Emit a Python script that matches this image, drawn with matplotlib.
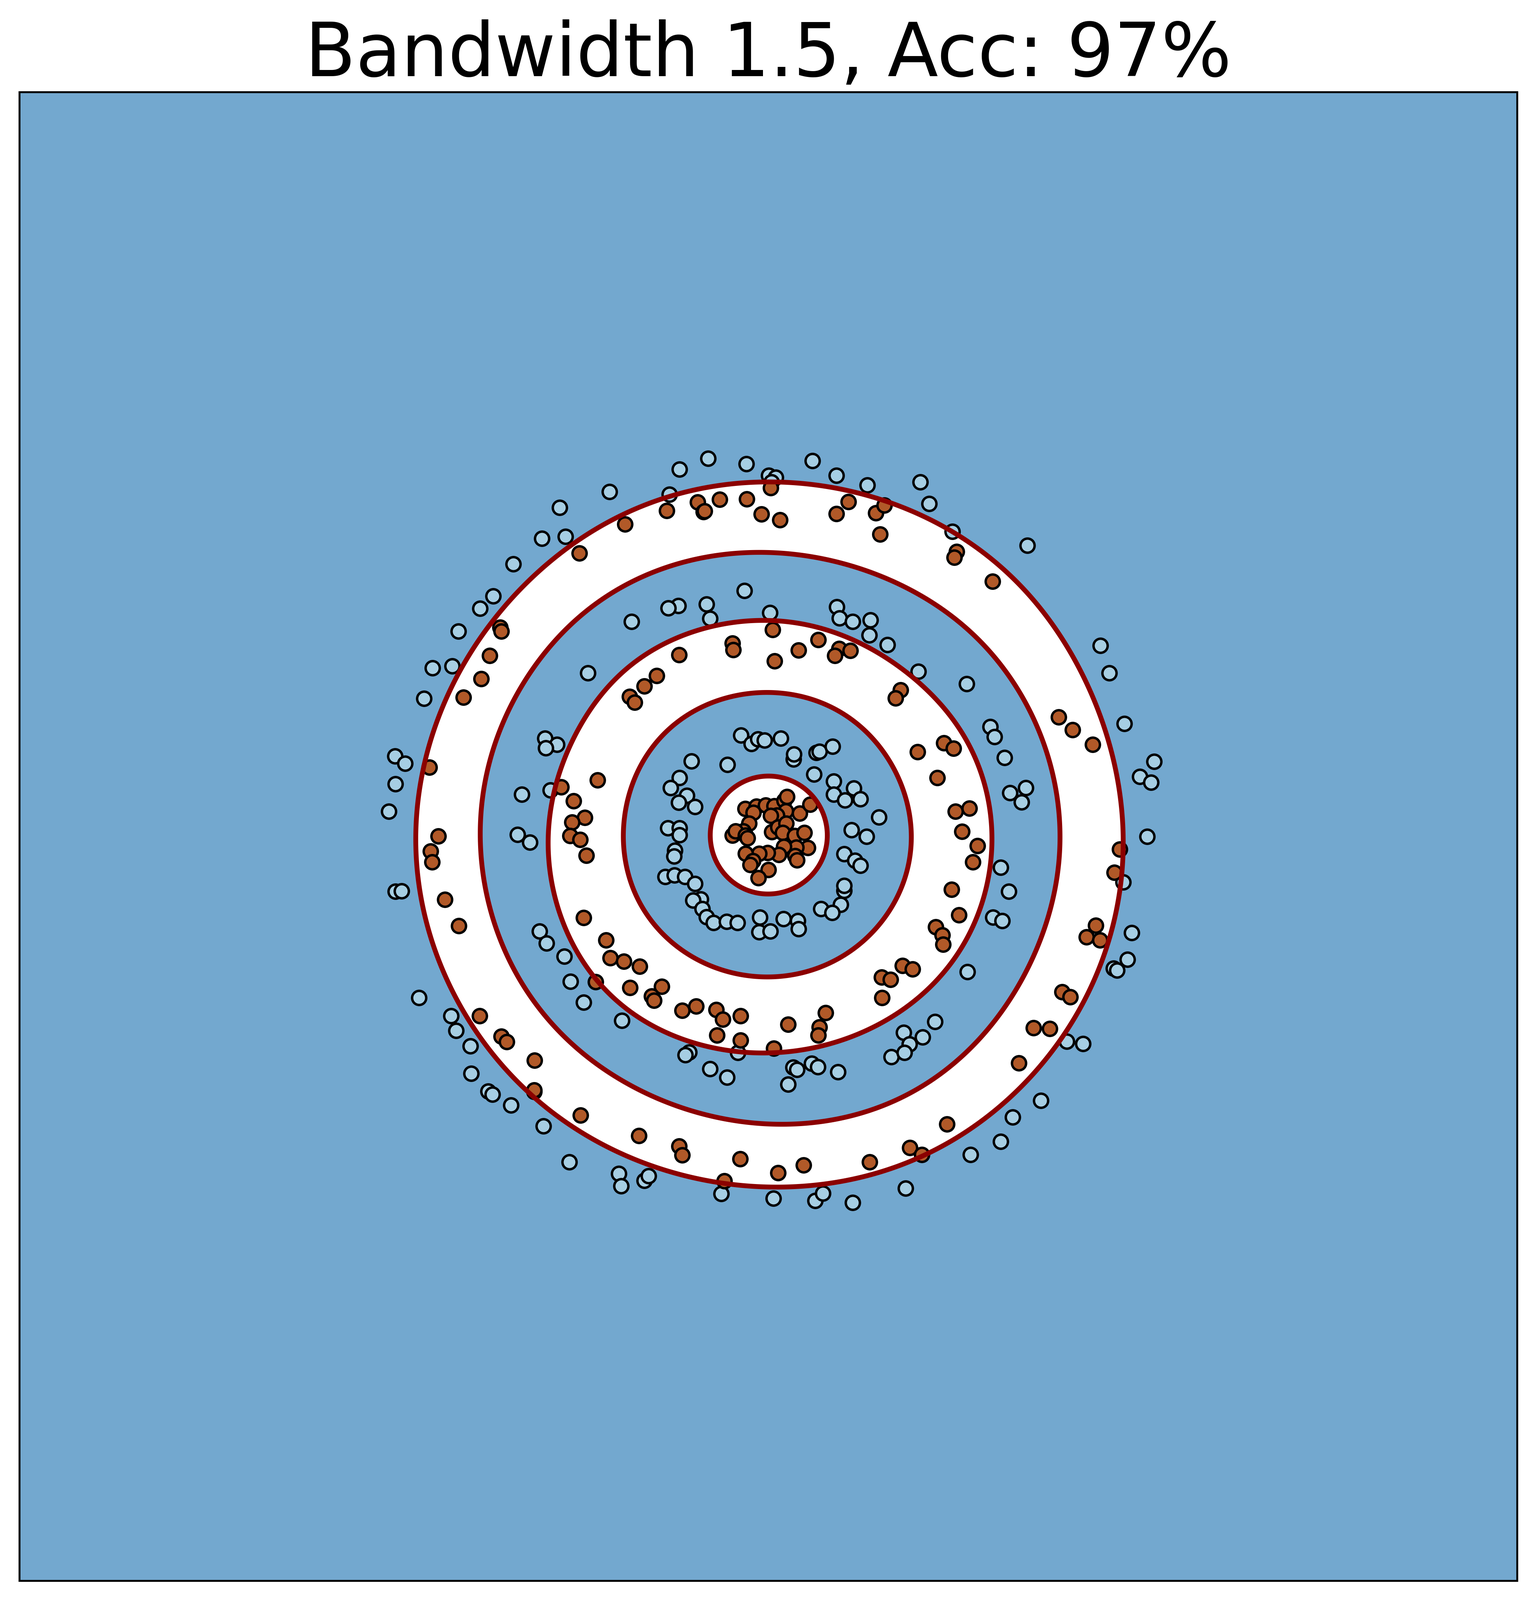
import matplotlib.pyplot as plt
import numpy as np

# light blue class (label 0), (x, y)
blue_pts = [
    (-4.11, 8.92), (-5.40, 8.51), (-5.86, 7.71), (-5.25, 7.76), (-6.60, 7.05), (-7.12, 6.22),
    (-7.46, 5.90), (-8.02, 5.31), (-8.69, 4.36), (-8.18, 4.41), (-8.91, 3.57), (-3.54, 5.56),
    (-4.67, 4.23),
    (-2.30, 9.50), (-1.56, 9.78), (-0.57, 9.63), (1.14, 9.71), (0.01, 9.34), (0.19, 9.29),
    (0.08, 9.17), (1.76, 9.34), (2.56, 9.09), (-2.56, 8.85), (-0.62, 6.36), (-2.33, 5.97),
    (-2.59, 5.91), (-1.60, 6.01), (-1.51, 5.64), (0.04, 5.79), (1.77, 5.94), (1.84, 5.65),
    (2.18, 5.56), (2.64, 5.60), (2.61, 5.21), (3.08, 4.96),
    (3.93, 9.17), (4.16, 8.61), (4.76, 7.89), (6.70, 7.53), (8.59, 4.94), (8.82, 4.23),
    (3.88, 4.27), (5.13, 3.95),
    (-9.66, 2.08), (-9.40, 1.89), (-9.65, 1.36), (-9.82, 0.65), (-9.65, -1.42), (-9.49, -1.41),
    (-5.78, 2.54), (-5.47, 2.38), (-5.76, 2.29), (-6.38, 1.09), (-5.64, 1.20), (-6.49, 0.05),
    (-6.17, -0.15), (-5.92, -2.45), (-5.74, -2.76), (-5.28, -3.10),
    # inner ring
    (-0.71, 2.62), (-0.44, 2.40), (-0.27, 2.52), (-0.10, 2.49), (0.32, 2.54), (0.65, 2.00),
    (0.66, 2.13), (1.24, 2.17), (1.32, 2.20), (1.66, 2.33), (-1.99, 1.95), (-1.06, 1.86),
    (-2.30, 1.52), (-2.53, 1.26), (-2.11, 1.06), (-2.32, 0.88), (-1.90, 0.77), (1.18, 1.61),
    (1.69, 1.43), (1.69, 1.09), (1.98, 0.94), (2.21, 1.25), (2.38, 0.97), (2.86, 0.50),
    (2.15, 0.17), (2.54, 0.00), (-2.60, 0.22), (-2.30, 0.22), (-2.30, 0.04), (-2.42, -0.36),
    (-2.44, -0.51), (-2.67, -1.04), (-2.43, -1.00), (-2.16, -1.04), (-1.90, -1.22), (-1.75, -1.62),
    (-1.95, -1.65), (-1.71, -1.87), (-1.60, -2.08), (-1.42, -2.23), (-1.08, -2.20), (-0.80, -2.23),
    (-0.22, -2.09), (-0.24, -2.47), (0.05, -2.45), (0.39, -2.13), (0.76, -2.18), (0.78, -2.39),
    (1.96, -1.40), (1.96, -1.27), (1.87, -1.76), (1.36, -1.87), (1.65, -1.97), (1.96, -0.45),
    (2.24, -0.62), (2.38, -0.75),
    # right side
    (5.74, 2.84), (5.85, 2.58), (6.11, 2.04), (6.25, 1.13), (6.66, 1.26), (6.55, 0.89),
    (6.01, -0.80), (6.22, -1.42), (5.81, -2.09), (6.05, -2.18), (9.21, 2.92), (9.98, 1.94),
    (9.61, 1.55), (9.90, 1.40), (9.80, 0.00), (9.18, -1.18), (9.40, -2.49),
    # lower left
    (-5.12, -3.75), (-4.78, -4.29), (-3.79, -4.76), (-9.04, -4.17), (-8.21, -4.64), (-8.08, -5.02),
    (-7.71, -5.42), (-7.69, -6.13), (-7.25, -6.59), (-7.14, -6.67), (-6.66, -6.95), (-5.82, -7.49),
    (-5.15, -8.42), (-3.87, -8.72), (-3.81, -9.04), (-3.21, -8.90), (-3.10, -8.78),
    # bottom
    (-2.05, -5.58), (-2.15, -5.65), (-0.79, -5.59), (-1.51, -6.01), (-1.07, -6.23), (0.64, -5.97),
    (0.74, -6.03), (1.12, -5.87), (1.28, -5.96), (1.80, -6.09), (0.51, -6.41), (3.18, -5.70),
    (-1.22, -9.24), (0.13, -9.36), (1.21, -9.42), (1.41, -9.23), (2.18, -9.47),
    # lower right
    (5.15, -3.50), (4.31, -4.79), (3.99, -5.19), (3.50, -5.07), (3.65, -5.37), (3.52, -5.59),
    (8.93, -3.41), (9.02, -3.46), (9.29, -3.18), (7.72, -5.30), (8.14, -5.36), (7.05, -6.83),
    (6.32, -7.26), (6.01, -7.89), (5.23, -8.23), (3.55, -9.10),
]

# brown class (label 1)
orange_pts = [
    (-3.71, 8.08), (-4.89, 7.33), (-6.94, 5.41), (-6.91, 5.31), (-7.21, 4.68), (-7.43, 4.08),
    (-7.89, 3.60),
    (-3.59, 3.62), (-3.46, 3.47), (-3.21, 3.89), (-2.89, 4.16),
    (-2.63, 8.43), (-1.83, 8.65), (-1.68, 8.40), (-1.65, 8.42), (-1.26, 8.71), (-0.56, 8.72),
    (0.06, 9.02), (-0.18, 8.34), (0.30, 8.19), (2.07, 8.66), (1.76, 8.35), (2.78, 8.37),
    (3.00, 8.56), (2.89, 7.82), (0.11, 5.35), (-0.93, 5.00), (-0.91, 4.83), (-2.31, 4.70),
    (0.16, 4.54), (0.78, 4.82), (1.29, 5.09), (1.83, 4.86), (2.12, 4.81), (1.72, 4.68),
    (3.42, 3.79), (3.29, 3.58),
    (4.87, 7.37), (4.81, 7.22), (5.80, 6.60),
    (-8.77, 1.79), (-8.54, 0.01), (-8.74, -0.38), (-8.70, -0.66), (-8.37, -1.63), (-8.01, -2.31),
    (-5.36, 1.28), (-4.42, 1.46), (-5.04, 0.92), (-4.75, 0.49), (-5.08, 0.37), (-5.13, 0.02),
    (-4.87, -0.08), (-4.71, -0.49), (-4.78, -2.10), (-4.20, -2.68),
    # core
    (-0.60, 0.72), (-0.31, 0.78), (-0.07, 0.81), (0.15, 0.79), (0.41, 0.93), (0.48, 1.03),
    (0.45, 0.66), (0.22, 0.55), (0.06, 0.54), (-0.39, 0.62), (0.81, 0.60), (1.08, 0.83),
    (-0.50, 0.34), (-0.65, 0.14), (-0.93, 0.03), (-0.85, 0.14), (-0.59, 0.03), (-0.54, -0.04),
    (0.09, 0.12), (0.25, 0.24), (0.46, 0.34), (0.37, 0.10), (0.68, 0.02), (0.93, 0.10),
    (1.02, -0.29), (0.72, -0.28), (0.69, -0.50), (0.74, -0.61), (0.40, -0.26), (0.27, -0.47),
    (-0.02, -0.42), (-0.24, -0.44), (-0.59, -0.44), (-0.40, -0.63), (-0.47, -0.73), (0.00, -0.86),
    (-0.26, -1.07),
    # right side
    (3.86, 2.19), (4.54, 2.42), (4.79, 2.28), (4.37, 1.52), (4.84, 0.65), (5.20, 0.73),
    (5.01, 0.13), (5.41, -0.24), (5.29, -0.66), (4.74, -1.37), (4.93, -2.03), (4.33, -2.34),
    (4.50, -2.55), (4.52, -2.79), (7.51, 3.09), (7.87, 2.76), (8.39, 2.38), (9.09, -0.33),
    (8.95, -0.93), (8.47, -2.30), (8.23, -2.60), (8.58, -2.68),
    # lower left
    (-7.47, -4.64), (-6.91, -5.17), (-6.77, -5.31), (-6.05, -5.79), (-6.06, -6.60), (-6.06, -6.56),
    (-4.86, -7.21), (-3.35, -7.74), (-4.09, -3.14), (-3.74, -3.23), (-3.33, -3.36), (-4.47, -3.76),
    (-3.58, -3.91),
    # bottom
    (-2.76, -3.88), (-3.02, -4.13), (-2.96, -4.24), (-2.23, -4.50), (-1.87, -4.39), (-1.35, -4.48),
    (-1.18, -4.73), (-0.72, -4.64), (-1.33, -5.14), (-0.72, -5.27), (0.14, -5.48), (0.51, -4.86),
    (1.48, -4.56), (1.32, -4.93), (1.29, -5.14), (2.93, -3.64), (3.16, -3.70), (2.94, -4.17),
    (3.47, -3.34), (-2.31, -8.01), (-2.23, -8.24), (-0.73, -8.34), (0.25, -8.70), (0.91, -8.50),
    (2.62, -8.42), (-1.14, -8.91),
    # lower right
    (3.73, -3.43), (7.60, -4.02), (7.81, -4.15), (6.86, -4.95), (7.28, -4.97), (6.48, -5.86),
    (4.62, -7.44), (3.66, -8.05), (3.97, -8.23),
]

title_text = "Bandwidth 1.5, Acc: 97%"
radial_width = 0.5     # kernel width along the radius (plot units)
angular_conc = 8.0     # von Mises concentration around the centre
x_lim = (-19.375, 19.375)
y_lim = (-19.255, 19.255)


def decision_surface(xx, yy, pts, labels, hr, kappa, bias=0.004, eps=0.004):
    """Kernel vote in polar coordinates; empty space falls to class 0."""
    rr = np.hypot(xx, yy)
    tt = np.arctan2(yy, xx)
    score = np.zeros_like(xx)
    dens = np.zeros_like(xx)
    for (px, py), lab in zip(pts, labels):
        ri, ti = np.hypot(px, py), np.arctan2(py, px)
        # angular spread shrinks near the centre so the core stays round
        k = kappa * np.clip(rr / 6.0, 0.1, 1.0)
        w = np.exp(-(rr - ri) ** 2 / (2 * hr * hr) + k * (np.cos(tt - ti) - 1))
        score += lab * w
        dens += w
    return (score - bias) / (dens + eps)


blue = np.array(blue_pts)
orange = np.array(orange_pts)
all_pts = np.vstack([blue, orange])
signs = np.r_[-np.ones(len(blue)), np.ones(len(orange))]

xx, yy = np.meshgrid(np.linspace(*x_lim, 700), np.linspace(*y_lim, 700))
Z = decision_surface(xx, yy, all_pts, signs, radial_width, angular_conc)

fig = plt.figure(figsize=(3974 / 300, 4139 / 300), dpi=300)
ax = fig.add_axes([50 / 3974, 50 / 4139, 3875 / 3974, 3851 / 4139])

ax.contourf(xx, yy, Z, levels=[Z.min() - 1, 0], colors=['#73a8cf'], zorder=1)
ax.scatter(blue[:, 0], blue[:, 1], s=77, c='#a6cee3', edgecolors='k', linewidths=1.5, zorder=2)
ax.scatter(orange[:, 0], orange[:, 1], s=77, c='#b15928', edgecolors='k', linewidths=1.5, zorder=2)
ax.contour(xx, yy, Z, levels=[0], colors='#8b0000', linewidths=3, zorder=3)

ax.set_xlim(*x_lim)
ax.set_ylim(*y_lim)
ax.set_xticks([])
ax.set_yticks([])
for sp in ax.spines.values():
    sp.set_linewidth(1.2)
ax.set_title(title_text, fontsize=46, pad=9.8)

fig.savefig('out.png', dpi=300)
